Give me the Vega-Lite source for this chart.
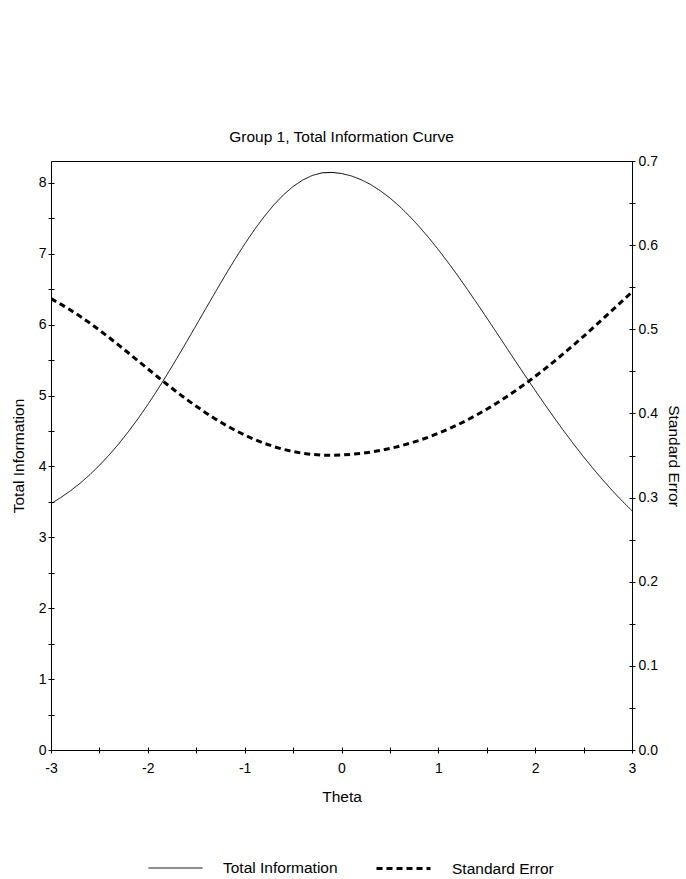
{
  "$schema": "https://vega.github.io/schema/vega-lite/v6.json",
  "autosize": "none",
  "width": 581,
  "height": 589,
  "padding": {"left": 51, "top": 161, "right": 54, "bottom": 129},
  "background": "white",
  "title": {"text": "Group 1, Total Information Curve", "frame": "group", "baseline": "alphabetic", "offset": -3, "font": "Liberation Sans", "fontSize": 15.5, "fontWeight": "normal", "color": "black"},
  "config": {
    "view": {"stroke": "black", "strokeWidth": 1},
    "axis": {"domain": false, "offset": -3, "tickSize": 6, "tickColor": "black", "tickWidth": 1, "grid": false, "labelFont": "Liberation Sans", "labelFontSize": 14, "labelColor": "black", "titleFont": "Liberation Sans", "titleFontSize": 15.5, "titleFontWeight": "normal", "titleColor": "black", "labelFlush": false, "labelOverlap": false},
    "legend": {"labelFont": "Liberation Sans", "labelFontSize": 15.5, "labelColor": "black"}
  },
  "datasets": {
    "info": [
      {"theta": -3.0, "value": 3.476, "series": "Total Information"},
      {"theta": -2.9, "value": 3.561, "series": "Total Information"},
      {"theta": -2.8, "value": 3.656, "series": "Total Information"},
      {"theta": -2.7, "value": 3.763, "series": "Total Information"},
      {"theta": -2.6, "value": 3.883, "series": "Total Information"},
      {"theta": -2.5, "value": 4.016, "series": "Total Information"},
      {"theta": -2.4, "value": 4.162, "series": "Total Information"},
      {"theta": -2.3, "value": 4.320, "series": "Total Information"},
      {"theta": -2.2, "value": 4.493, "series": "Total Information"},
      {"theta": -2.1, "value": 4.677, "series": "Total Information"},
      {"theta": -2.0, "value": 4.874, "series": "Total Information"},
      {"theta": -1.9, "value": 5.082, "series": "Total Information"},
      {"theta": -1.8, "value": 5.300, "series": "Total Information"},
      {"theta": -1.7, "value": 5.526, "series": "Total Information"},
      {"theta": -1.6, "value": 5.758, "series": "Total Information"},
      {"theta": -1.5, "value": 5.994, "series": "Total Information"},
      {"theta": -1.4, "value": 6.231, "series": "Total Information"},
      {"theta": -1.3, "value": 6.467, "series": "Total Information"},
      {"theta": -1.2, "value": 6.699, "series": "Total Information"},
      {"theta": -1.1, "value": 6.924, "series": "Total Information"},
      {"theta": -1.0, "value": 7.138, "series": "Total Information"},
      {"theta": -0.9, "value": 7.339, "series": "Total Information"},
      {"theta": -0.8, "value": 7.523, "series": "Total Information"},
      {"theta": -0.7, "value": 7.689, "series": "Total Information"},
      {"theta": -0.6, "value": 7.832, "series": "Total Information"},
      {"theta": -0.5, "value": 7.950, "series": "Total Information"},
      {"theta": -0.4, "value": 8.042, "series": "Total Information"},
      {"theta": -0.3, "value": 8.107, "series": "Total Information"},
      {"theta": -0.2, "value": 8.143, "series": "Total Information"},
      {"theta": -0.1, "value": 8.149, "series": "Total Information"},
      {"theta": 0.0, "value": 8.134, "series": "Total Information"},
      {"theta": 0.1, "value": 8.100, "series": "Total Information"},
      {"theta": 0.2, "value": 8.048, "series": "Total Information"},
      {"theta": 0.3, "value": 7.979, "series": "Total Information"},
      {"theta": 0.4, "value": 7.891, "series": "Total Information"},
      {"theta": 0.5, "value": 7.788, "series": "Total Information"},
      {"theta": 0.6, "value": 7.669, "series": "Total Information"},
      {"theta": 0.7, "value": 7.535, "series": "Total Information"},
      {"theta": 0.8, "value": 7.388, "series": "Total Information"},
      {"theta": 0.9, "value": 7.229, "series": "Total Information"},
      {"theta": 1.0, "value": 7.059, "series": "Total Information"},
      {"theta": 1.1, "value": 6.880, "series": "Total Information"},
      {"theta": 1.2, "value": 6.693, "series": "Total Information"},
      {"theta": 1.3, "value": 6.499, "series": "Total Information"},
      {"theta": 1.4, "value": 6.300, "series": "Total Information"},
      {"theta": 1.5, "value": 6.097, "series": "Total Information"},
      {"theta": 1.6, "value": 5.892, "series": "Total Information"},
      {"theta": 1.7, "value": 5.685, "series": "Total Information"},
      {"theta": 1.8, "value": 5.479, "series": "Total Information"},
      {"theta": 1.9, "value": 5.275, "series": "Total Information"},
      {"theta": 2.0, "value": 5.073, "series": "Total Information"},
      {"theta": 2.1, "value": 4.875, "series": "Total Information"},
      {"theta": 2.2, "value": 4.681, "series": "Total Information"},
      {"theta": 2.3, "value": 4.493, "series": "Total Information"},
      {"theta": 2.4, "value": 4.311, "series": "Total Information"},
      {"theta": 2.5, "value": 4.136, "series": "Total Information"},
      {"theta": 2.6, "value": 3.968, "series": "Total Information"},
      {"theta": 2.7, "value": 3.807, "series": "Total Information"},
      {"theta": 2.8, "value": 3.655, "series": "Total Information"},
      {"theta": 2.9, "value": 3.511, "series": "Total Information"},
      {"theta": 3.0, "value": 3.375, "series": "Total Information"}
    ],
    "se": [
      {"theta": -3.0, "value": 0.5364, "series": "Standard Error"},
      {"theta": -2.9, "value": 0.5299, "series": "Standard Error"},
      {"theta": -2.8, "value": 0.5230, "series": "Standard Error"},
      {"theta": -2.7, "value": 0.5155, "series": "Standard Error"},
      {"theta": -2.6, "value": 0.5075, "series": "Standard Error"},
      {"theta": -2.5, "value": 0.4990, "series": "Standard Error"},
      {"theta": -2.4, "value": 0.4902, "series": "Standard Error"},
      {"theta": -2.3, "value": 0.4811, "series": "Standard Error"},
      {"theta": -2.2, "value": 0.4718, "series": "Standard Error"},
      {"theta": -2.1, "value": 0.4624, "series": "Standard Error"},
      {"theta": -2.0, "value": 0.4530, "series": "Standard Error"},
      {"theta": -1.9, "value": 0.4436, "series": "Standard Error"},
      {"theta": -1.8, "value": 0.4344, "series": "Standard Error"},
      {"theta": -1.7, "value": 0.4254, "series": "Standard Error"},
      {"theta": -1.6, "value": 0.4167, "series": "Standard Error"},
      {"theta": -1.5, "value": 0.4085, "series": "Standard Error"},
      {"theta": -1.4, "value": 0.4006, "series": "Standard Error"},
      {"theta": -1.3, "value": 0.3932, "series": "Standard Error"},
      {"theta": -1.2, "value": 0.3864, "series": "Standard Error"},
      {"theta": -1.1, "value": 0.3800, "series": "Standard Error"},
      {"theta": -1.0, "value": 0.3743, "series": "Standard Error"},
      {"theta": -0.9, "value": 0.3691, "series": "Standard Error"},
      {"theta": -0.8, "value": 0.3646, "series": "Standard Error"},
      {"theta": -0.7, "value": 0.3606, "series": "Standard Error"},
      {"theta": -0.6, "value": 0.3573, "series": "Standard Error"},
      {"theta": -0.5, "value": 0.3547, "series": "Standard Error"},
      {"theta": -0.4, "value": 0.3526, "series": "Standard Error"},
      {"theta": -0.3, "value": 0.3512, "series": "Standard Error"},
      {"theta": -0.2, "value": 0.3504, "series": "Standard Error"},
      {"theta": -0.1, "value": 0.3503, "series": "Standard Error"},
      {"theta": 0.0, "value": 0.3506, "series": "Standard Error"},
      {"theta": 0.1, "value": 0.3514, "series": "Standard Error"},
      {"theta": 0.2, "value": 0.3525, "series": "Standard Error"},
      {"theta": 0.3, "value": 0.3540, "series": "Standard Error"},
      {"theta": 0.4, "value": 0.3560, "series": "Standard Error"},
      {"theta": 0.5, "value": 0.3583, "series": "Standard Error"},
      {"theta": 0.6, "value": 0.3611, "series": "Standard Error"},
      {"theta": 0.7, "value": 0.3643, "series": "Standard Error"},
      {"theta": 0.8, "value": 0.3679, "series": "Standard Error"},
      {"theta": 0.9, "value": 0.3719, "series": "Standard Error"},
      {"theta": 1.0, "value": 0.3764, "series": "Standard Error"},
      {"theta": 1.1, "value": 0.3812, "series": "Standard Error"},
      {"theta": 1.2, "value": 0.3865, "series": "Standard Error"},
      {"theta": 1.3, "value": 0.3923, "series": "Standard Error"},
      {"theta": 1.4, "value": 0.3984, "series": "Standard Error"},
      {"theta": 1.5, "value": 0.4050, "series": "Standard Error"},
      {"theta": 1.6, "value": 0.4120, "series": "Standard Error"},
      {"theta": 1.7, "value": 0.4194, "series": "Standard Error"},
      {"theta": 1.8, "value": 0.4272, "series": "Standard Error"},
      {"theta": 1.9, "value": 0.4354, "series": "Standard Error"},
      {"theta": 2.0, "value": 0.4440, "series": "Standard Error"},
      {"theta": 2.1, "value": 0.4529, "series": "Standard Error"},
      {"theta": 2.2, "value": 0.4622, "series": "Standard Error"},
      {"theta": 2.3, "value": 0.4718, "series": "Standard Error"},
      {"theta": 2.4, "value": 0.4816, "series": "Standard Error"},
      {"theta": 2.5, "value": 0.4917, "series": "Standard Error"},
      {"theta": 2.6, "value": 0.5020, "series": "Standard Error"},
      {"theta": 2.7, "value": 0.5125, "series": "Standard Error"},
      {"theta": 2.8, "value": 0.5231, "series": "Standard Error"},
      {"theta": 2.9, "value": 0.5337, "series": "Standard Error"},
      {"theta": 3.0, "value": 0.5443, "series": "Standard Error"}
    ]
  },
  "encoding": {
    "x": {"field": "theta", "type": "quantitative", "scale": {"domain": [-3, 3], "nice": false, "zero": false},
      "axis": {"title": "Theta", "values": [-3, -2.5, -2, -1.5, -1, -0.5, 0, 0.5, 1, 1.5, 2, 2.5, 3], "labelExpr": "datum.value % 1 == 0 ? '' + datum.value : ''", "labelPadding": 8, "titlePadding": 14}},
    "strokeDash": {"field": "series", "type": "nominal", "scale": {"domain": ["Total Information", "Standard Error"], "range": [[1, 0], [6, 4]]},
      "legend": {"title": null, "orient": "none", "direction": "horizontal", "legendX": 97, "legendY": 679, "symbolType": "stroke", "symbolSize": 2916, "symbolStrokeColor": "black", "labelOffset": 20, "columnPadding": 32}},
    "strokeWidth": {"field": "series", "type": "nominal", "scale": {"domain": ["Total Information", "Standard Error"], "range": [1, 3]}, "legend": null}
  },
  "layer": [
    {
      "data": {"name": "info"},
      "mark": {"type": "line", "stroke": "black", "clip": true},
      "encoding": {
        "y": {"field": "value", "type": "quantitative", "scale": {"domain": [0, 8.31], "nice": false},
          "axis": {"orient": "left", "title": "Total Information", "values": [0, 0.5, 1, 1.5, 2, 2.5, 3, 3.5, 4, 4.5, 5, 5.5, 6, 6.5, 7, 7.5, 8], "labelExpr": "datum.value % 1 == 0 ? '' + datum.value : ''", "labelPadding": 2, "titlePadding": 12}}
      }
    },
    {
      "data": {"name": "se"},
      "mark": {"type": "line", "stroke": "black", "clip": true},
      "encoding": {
        "y": {"field": "value", "type": "quantitative", "scale": {"domain": [0, 0.7], "nice": false},
          "axis": {"orient": "right", "title": "Standard Error", "values": [0, 0.05, 0.1, 0.15, 0.2, 0.25, 0.3, 0.35, 0.4, 0.45, 0.5, 0.55, 0.6, 0.65, 0.7], "labelExpr": "abs(datum.value * 10 - round(datum.value * 10)) < 0.001 ? format(datum.value, '.1f') : ''", "labelPadding": 3, "titlePadding": 8}}
      }
    }
  ],
  "resolve": {"scale": {"y": "independent"}}
}
